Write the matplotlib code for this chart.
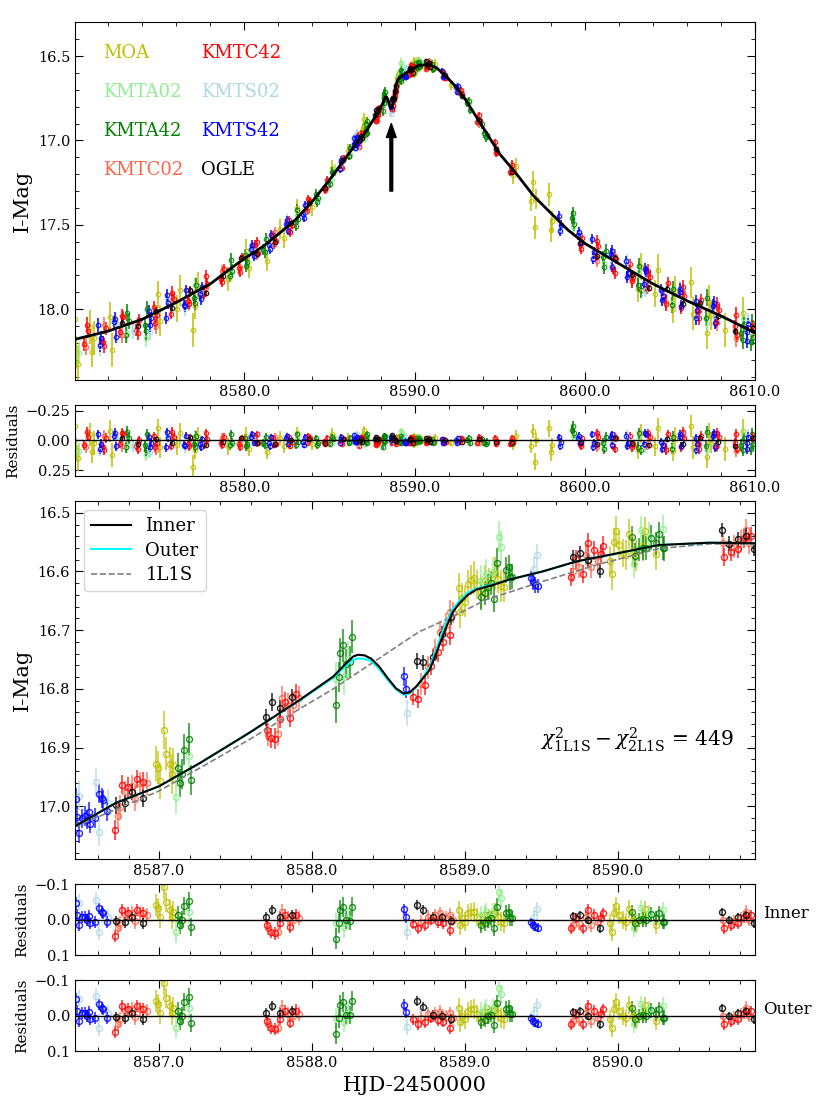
import numpy as np
import matplotlib
matplotlib.use('Agg')
import matplotlib.pyplot as plt
from matplotlib.ticker import MultipleLocator, FuncFormatter
from matplotlib.lines import Line2D

plt.rcParams['font.family'] = ['DejaVu Serif']
plt.rcParams['mathtext.fontset'] = 'dejavuserif'

# ---- model curves ----
# 2L1S inner model, whole season
model_t = [8570.0, 8572.0, 8574.0, 8576.0, 8578.0, 8579.1, 8580.0, 8581.1, 8582.0, 8583.0,
           8584.0, 8585.0, 8586.0,
           8586.45, 8586.72, 8587.0, 8587.27, 8587.59, 8587.92, 8588.14, 8588.226, 8588.27,
           8588.30, 8588.345, 8588.39, 8588.44, 8588.497, 8588.55, 8588.60, 8588.64, 8588.683,
           8588.727, 8588.77, 8588.814, 8588.855, 8588.89, 8588.92, 8588.966, 8589.02,
           8589.075, 8589.184, 8589.29, 8589.51, 8589.73, 8590.0, 8590.27, 8590.6, 8590.9,
           8591.3, 8591.85, 8592.5, 8593.0, 8593.5, 8594.0, 8595.0, 8596.0, 8597.0, 8598.0,
           8599.0, 8600.0, 8602.0, 8604.0, 8606.0, 8608.0, 8610.0]
model_mag = [18.18, 18.13, 18.06, 17.96, 17.85, 17.766, 17.70, 17.628, 17.555, 17.47,
             17.36, 17.234, 17.096,
             17.034, 16.994, 16.966, 16.926, 16.875, 16.819, 16.779, 16.756, 16.745,
             16.742, 16.743, 16.749, 16.762, 16.782, 16.799, 16.808, 16.806, 16.796,
             16.782, 16.768, 16.739, 16.711, 16.688, 16.670, 16.654, 16.640,
             16.631, 16.623, 16.614, 16.600, 16.583, 16.569, 16.555, 16.551, 16.552,
             16.570, 16.620, 16.690, 16.760, 16.840, 16.920, 17.080, 17.200, 17.330, 17.430,
             17.530, 17.610, 17.730, 17.850, 17.950, 18.040, 18.140]

# 2L1S outer model, zoom window
outer_t = [8586.45, 8586.72, 8587.0, 8587.27, 8587.59, 8587.92, 8588.14, 8588.226, 8588.27,
           8588.30, 8588.345, 8588.39, 8588.44, 8588.497, 8588.55, 8588.60, 8588.64, 8588.683,
           8588.727, 8588.77, 8588.814, 8588.855, 8588.89, 8588.92, 8588.966, 8589.02,
           8589.075, 8589.184, 8589.29, 8589.51, 8589.73, 8590.0, 8590.27, 8590.6, 8590.9]
outer_mag = [17.034, 16.994, 16.966, 16.926, 16.875, 16.820, 16.781, 16.760, 16.751,
             16.748, 16.749, 16.753, 16.766, 16.785, 16.801, 16.810, 16.808, 16.797,
             16.780, 16.763, 16.732, 16.703, 16.681, 16.664, 16.650, 16.636,
             16.629, 16.622, 16.614, 16.600, 16.583, 16.569, 16.555, 16.551, 16.552]

# 1L1S model, zoom window
pspl_t = [8586.45, 8587.0, 8587.3, 8587.6, 8587.92, 8588.14, 8588.4, 8588.7, 8588.92,
          8589.14, 8589.51, 8589.86, 8590.27, 8590.6, 8590.9]
pspl_mag = [17.035, 16.974, 16.930, 16.885, 16.834, 16.800, 16.755, 16.703, 16.677,
            16.648, 16.617, 16.589, 16.561, 16.553, 16.553]

# ---- data: time, residual from inner model, error ----
moa_t = [8570.05, 8570.12, 8570.20, 8570.95, 8571.05, 8571.15, 8572.10, 8572.25,
         8574.95, 8575.05, 8576.05, 8576.20, 8577.00, 8577.10, 8577.25, 8579.05,
         8580.10, 8580.25, 8581.30, 8582.10, 8582.30, 8583.10, 8583.95, 8585.15,
         8586.10,
         8586.977, 8586.995, 8587.006, 8587.032, 8587.043, 8587.071, 8587.082, 8587.093,
         8588.962, 8588.966, 8588.984, 8588.999, 8589.021, 8589.043, 8589.064, 8589.082,
         8589.108, 8589.130, 8589.162, 8589.195, 8589.217, 8589.239, 8589.256,
         8589.953, 8589.964, 8589.979, 8589.990, 8590.008, 8590.034, 8590.056, 8590.077,
         8590.099, 8590.121, 8590.165, 8590.182, 8590.252,
         8591.05, 8591.20, 8592.15, 8595.80, 8595.95, 8596.85, 8596.95, 8597.05,
         8597.15, 8597.90, 8598.00, 8598.10, 8603.15, 8603.30, 8604.15, 8604.30,
         8605.20, 8605.30, 8606.25, 8606.35, 8607.20, 8607.30, 8607.40, 8608.25,
         8609.30]
moa_res = [-0.12, 0.08, 0.15, -0.05, 0.10, 0.02, -0.08, 0.12,
           -0.10, 0.06, 0.04, -0.06, 0.22, 0.08, -0.03, 0.05,
           -0.04, 0.07, 0.10, -0.02, 0.05, -0.06, 0.03, -0.05,
           -0.02,
           -0.041, -0.032, -0.008, -0.091, -0.049, -0.027, -0.008, -0.022,
           -0.027, 0.015, -0.004, 0.006, -0.018, -0.022, -0.022, -0.008,
           0.006, -0.013, -0.004, -0.018, -0.008, 0.006, 0.010,
           0.010, 0.034, -0.020, -0.038, -0.013, 0.001, 0.006, -0.029,
           0.001, 0.010, -0.004, -0.029, 0.015,
           0.01, -0.02, 0.02, 0.03, -0.04, 0.05, -0.08, 0.18,
           0.00, -0.10, 0.10, 0.04, 0.08, -0.06, 0.05, -0.10,
           0.09, -0.02, -0.12, 0.06, 0.14, -0.05, 0.02, 0.07,
           -0.08]
moa_err = [0.12, 0.10, 0.11, 0.10, 0.09, 0.10, 0.09, 0.10,
           0.08, 0.09, 0.08, 0.09, 0.10, 0.08, 0.08, 0.07,
           0.07, 0.06, 0.06, 0.06, 0.06, 0.05, 0.05, 0.05,
           0.04,
           0.030, 0.028, 0.030, 0.032, 0.028, 0.030, 0.034, 0.030,
           0.026, 0.028, 0.025, 0.027, 0.025, 0.026, 0.028, 0.025,
           0.027, 0.025, 0.026, 0.028, 0.025, 0.027, 0.026,
           0.025, 0.027, 0.024, 0.026, 0.025, 0.024, 0.026, 0.025,
           0.024, 0.026, 0.025, 0.024, 0.026,
           0.03, 0.03, 0.03, 0.05, 0.05, 0.06, 0.06, 0.07,
           0.06, 0.07, 0.07, 0.06, 0.08, 0.08, 0.08, 0.09,
           0.08, 0.09, 0.09, 0.10, 0.09, 0.10, 0.09, 0.10,
           0.10]

kmta02_t = [8570.30, 8573.12, 8574.20, 8577.10, 8579.22, 8580.12, 8581.20, 8583.08, 8584.26,
            8585.12, 8585.30, 8586.18,
            8587.108, 8587.197, 8588.160, 8588.210, 8588.237,
            8589.108, 8589.141, 8589.184, 8589.223, 8589.239,
            8590.110, 8590.154, 8590.208, 8590.300,
            8591.08, 8593.18, 8594.18, 8599.28, 8601.15, 8603.20, 8605.10, 8607.15, 8609.28,
            8609.82]
kmta02_res = [0.09, 0.05, 0.12, -0.04, 0.03, -0.02, 0.04, -0.02, 0.02,
              0.01, -0.02, 0.01,
              0.034, -0.022, 0.010, 0.020, -0.004,
              -0.013, -0.022, -0.022, -0.079, -0.060,
              0.024, -0.032, -0.018, -0.027,
              0.00, -0.01, 0.02, -0.04, 0.05, -0.03, 0.06, 0.08, -0.05,
              0.03]
kmta02_err = [0.065, 0.058, 0.055, 0.050, 0.046, 0.044, 0.042, 0.038, 0.035,
              0.032, 0.032, 0.030,
              0.030, 0.030, 0.030, 0.030, 0.030,
              0.026, 0.026, 0.026, 0.027, 0.027,
              0.024, 0.024, 0.024, 0.024,
              0.024, 0.030, 0.032, 0.045, 0.048, 0.050, 0.054, 0.056, 0.060,
              0.060]

kmta42_t = [8573.05, 8573.20, 8574.15, 8574.25, 8577.02, 8577.15, 8579.15, 8579.30, 8580.05,
            8580.18, 8581.12, 8581.28, 8583.02, 8583.15, 8584.20, 8584.32, 8585.05, 8585.22,
            8586.12, 8586.22,
            8587.125, 8587.136, 8587.147, 8587.165, 8587.195, 8587.206,
            8588.156, 8588.175, 8588.186, 8588.204, 8588.226, 8588.247, 8588.260,
            8589.108, 8589.130, 8589.151, 8589.173, 8589.191, 8589.210, 8589.271, 8589.287,
            8589.297, 8589.311,
            8590.095, 8590.117, 8590.138, 8590.165, 8590.186, 8590.219, 8590.252, 8590.273,
            8590.295, 8590.306,
            8591.00, 8591.12, 8593.10, 8593.25, 8593.95, 8594.10, 8594.25, 8599.22, 8599.35,
            8601.05, 8601.25, 8603.10, 8603.30, 8605.20, 8607.10, 8609.20, 8609.35, 8609.75,
            8609.90,
            # second field exposures
            8573.12, 8574.20, 8577.08, 8579.22, 8580.12, 8581.20, 8583.08, 8584.26, 8585.14,
            8586.17, 8591.06, 8593.18, 8594.18, 8599.28, 8601.15, 8603.20, 8605.12, 8607.16,
            8609.28, 8609.82]
kmta42_res = [0.06, -0.02, 0.04, -0.05, 0.03, -0.04, 0.04, 0.02, -0.02,
              0.03, 0.02, -0.03, 0.04, 0.01, -0.02, 0.02, 0.03, -0.01,
              0.01, -0.02,
              -0.013, 0.015, 0.001, -0.038, -0.052, 0.020,
              0.053, 0.010, -0.027, -0.036, 0.001, 0.003, -0.036,
              0.015, 0.010, 0.001, -0.004, 0.024, -0.036, -0.018, -0.022,
              -0.004, -0.004,
              -0.022, 0.010, 0.001, -0.001, 0.001, -0.015, -0.004, -0.018,
              0.006, 0.006,
              -0.01, 0.01, 0.00, 0.02, -0.01, 0.02, 0.01, -0.09, -0.06,
              0.02, -0.03, 0.06, 0.08, -0.03, 0.05, 0.04, -0.02, 0.07,
              0.03,
              -0.07, 0.08, 0.06, -0.05, 0.05, 0.04, -0.05, 0.04, -0.03,
              0.02, 0.02, -0.02, 0.03, -0.12, 0.07, -0.06, 0.07, -0.07,
              0.08, -0.05]
kmta42_err = [0.050, 0.048, 0.047, 0.046, 0.042, 0.042, 0.038, 0.038, 0.036,
              0.036, 0.034, 0.034, 0.030, 0.030, 0.028, 0.028, 0.026, 0.026,
              0.024, 0.024,
              0.025, 0.024, 0.025, 0.026, 0.027, 0.025,
              0.030, 0.026, 0.027, 0.028, 0.025, 0.026, 0.028,
              0.022, 0.021, 0.022, 0.021, 0.023, 0.024, 0.022, 0.021,
              0.022, 0.021,
              0.020, 0.021, 0.020, 0.021, 0.020, 0.021, 0.020, 0.021,
              0.020, 0.021,
              0.021, 0.021, 0.026, 0.026, 0.028, 0.028, 0.028, 0.038, 0.038,
              0.040, 0.040, 0.043, 0.043, 0.046, 0.048, 0.050, 0.050, 0.050,
              0.050,
              0.052, 0.050, 0.045, 0.040, 0.038, 0.036, 0.032, 0.030, 0.027,
              0.025, 0.022, 0.027, 0.029, 0.040, 0.042, 0.045, 0.048, 0.050,
              0.052, 0.052]

kmtc02_t = [8570.72, 8571.78, 8572.80, 8573.72, 8574.78, 8575.76, 8576.74, 8577.72, 8578.70,
            8579.76, 8580.72, 8581.78, 8582.70, 8583.76, 8584.78, 8585.76,
            8586.733, 8586.745, 8586.777, 8586.820, 8586.840, 8586.875, 8586.918,
            8587.714, 8587.775, 8587.807, 8587.844, 8587.877, 8587.914,
            8588.716, 8588.759, 8588.803, 8588.840, 8588.879, 8588.901, 8588.923,
            8589.707, 8589.751, 8589.794, 8589.827, 8589.870,
            8590.687, 8590.764, 8590.807, 8590.844, 8590.860,
            8591.74, 8592.72, 8593.76, 8594.78, 8595.70, 8599.78, 8600.72, 8601.76, 8602.76,
            8603.72, 8604.76, 8605.74, 8606.72, 8607.78, 8608.86, 8609.90]
kmtc02_res = [0.06, -0.04, 0.05, 0.02, 0.08, -0.03, 0.04, 0.01, -0.02,
              0.03, 0.02, -0.03, 0.04, 0.01, 0.02, -0.02,
              0.024, 0.010, -0.013, -0.018, 0.005, -0.018, -0.013,
              0.024, 0.034, -0.022, -0.004, 0.001, -0.004,
              0.006, -0.008, -0.013, -0.018, -0.004, -0.013, 0.001,
              0.015, 0.010, -0.008, 0.015, 0.006,
              0.001, 0.006, -0.004, -0.022, 0.000,
              0.01, -0.01, 0.02, 0.00, -0.01, 0.03, 0.06, -0.03, 0.05,
              0.02, 0.07, -0.04, 0.03, 0.05, 0.09, -0.02]
kmtc02_err = [0.050, 0.050, 0.048, 0.046, 0.045, 0.044, 0.042, 0.040, 0.038,
              0.036, 0.034, 0.032, 0.030, 0.028, 0.026, 0.024,
              0.020, 0.021, 0.019, 0.020, 0.021, 0.019, 0.020,
              0.020, 0.019, 0.021, 0.020, 0.019, 0.020,
              0.019, 0.020, 0.018, 0.019, 0.020, 0.019, 0.018,
              0.018, 0.019, 0.018, 0.019, 0.018,
              0.018, 0.019, 0.018, 0.019, 0.018,
              0.020, 0.022, 0.025, 0.028, 0.030, 0.036, 0.038, 0.040, 0.042,
              0.043, 0.045, 0.046, 0.047, 0.048, 0.050, 0.050]

kmtc42_t = [8570.60, 8570.80, 8571.70, 8571.85, 8572.72, 8572.88, 8573.62, 8573.80,
            8574.70, 8574.86, 8575.68, 8575.84, 8576.66, 8576.82, 8577.64, 8577.80,
            8578.62, 8578.78, 8579.66, 8579.84, 8580.64, 8580.80, 8581.68, 8581.86,
            8582.62, 8582.78, 8583.66, 8583.84, 8584.70, 8584.86, 8585.68, 8585.86,
            8586.711, 8586.755, 8586.799, 8586.853, 8586.897,
            8587.703, 8587.735, 8587.757, 8587.790, 8587.822, 8587.856, 8587.899,
            8588.660, 8588.694, 8588.738, 8588.781, 8588.825, 8588.857, 8588.905,
            8589.696, 8589.729, 8589.772, 8589.809, 8589.849, 8589.892, 8589.903,
            8590.698, 8590.742, 8590.786, 8590.829, 8590.873,
            8591.66, 8591.82, 8592.64, 8592.80, 8593.68, 8593.84, 8594.70, 8594.86,
            8595.62, 8595.78, 8599.70, 8599.86, 8600.64, 8600.80, 8601.66, 8601.84,
            8602.68, 8602.84, 8603.64, 8603.80, 8604.68, 8604.86, 8605.66, 8605.82,
            8606.64, 8606.80, 8607.70, 8607.86, 8608.80, 8608.92, 8609.84,
            # second field exposures
            8570.74, 8571.76, 8572.78, 8573.74, 8574.76, 8575.74, 8576.74, 8577.72,
            8578.70, 8579.74, 8580.72, 8581.76, 8582.70, 8583.74, 8584.76, 8585.74,
            8591.74, 8592.72, 8593.76, 8594.78, 8595.70, 8599.78, 8600.72, 8601.76,
            8602.76, 8603.72, 8604.76, 8605.74, 8606.72, 8607.78, 8608.86]
kmtc42_res = [0.04, -0.03, 0.06, -0.02, 0.03, -0.05, 0.05, 0.00,
              -0.04, 0.02, 0.05, -0.03, 0.03, -0.02, 0.04, -0.01,
              0.02, -0.03, 0.03, -0.02, -0.04, 0.02, -0.02, 0.03,
              -0.03, 0.01, 0.02, -0.02, 0.01, -0.02, 0.02, -0.01,
              0.045, -0.027, -0.018, -0.027, -0.018,
              0.015, 0.034, 0.038, 0.010, -0.013, 0.020, -0.013,
              0.012, 0.024, 0.015, 0.001, 0.006, 0.010, 0.029,
              0.024, -0.004, 0.024, -0.027, -0.013, -0.004, -0.018,
              0.024, 0.015, 0.010, -0.008, -0.013,
              -0.01, 0.01, 0.01, -0.01, 0.02, -0.01, -0.02, 0.01,
              0.03, 0.01, 0.03, -0.02, 0.04, -0.03, 0.05, -0.02,
              -0.04, 0.03, 0.05, -0.03, 0.04, -0.05, 0.06, -0.02,
              0.03, -0.04, 0.05, -0.03, 0.02, 0.07, -0.03,
              -0.07, 0.08, -0.06, 0.07, 0.06, -0.07, 0.05, -0.06,
              0.04, 0.06, -0.05, 0.04, 0.05, -0.04, 0.03, 0.03,
              0.02, -0.02, -0.03, 0.03, -0.02, 0.05, -0.06, 0.07,
              0.06, -0.06, 0.08, -0.07, 0.07, -0.06, -0.05]
kmtc42_err = [0.040, 0.038, 0.038, 0.040, 0.036, 0.038, 0.035, 0.036,
              0.034, 0.035, 0.033, 0.034, 0.032, 0.033, 0.031, 0.030,
              0.029, 0.030, 0.028, 0.027, 0.026, 0.027, 0.025, 0.024,
              0.023, 0.024, 0.022, 0.021, 0.020, 0.021, 0.018, 0.019,
              0.017, 0.016, 0.018, 0.016, 0.017,
              0.016, 0.017, 0.018, 0.016, 0.017, 0.016, 0.018,
              0.015, 0.016, 0.017, 0.015, 0.016, 0.015, 0.017,
              0.015, 0.016, 0.015, 0.017, 0.016, 0.015, 0.016,
              0.015, 0.016, 0.015, 0.016, 0.015,
              0.015, 0.016, 0.018, 0.018, 0.020, 0.020, 0.022, 0.022,
              0.024, 0.024, 0.027, 0.028, 0.028, 0.029, 0.030, 0.030,
              0.031, 0.032, 0.032, 0.033, 0.034, 0.034, 0.035, 0.035,
              0.036, 0.036, 0.037, 0.037, 0.038, 0.038, 0.040,
              0.045, 0.045, 0.044, 0.043, 0.042, 0.040, 0.038, 0.036,
              0.034, 0.032, 0.030, 0.028, 0.026, 0.024, 0.022, 0.020,
              0.018, 0.020, 0.022, 0.025, 0.028, 0.032, 0.034, 0.036,
              0.038, 0.039, 0.040, 0.041, 0.042, 0.043, 0.045]

kmts02_t = [8571.50, 8572.44, 8573.48, 8574.48, 8575.46, 8576.50, 8577.46, 8580.48, 8581.52,
            8582.50, 8583.48, 8585.64,
            8586.476, 8586.587, 8586.609, 8586.668, 8588.622, 8589.456, 8589.472,
            8591.66, 8592.50, 8598.54, 8599.66, 8600.50, 8601.58, 8602.50, 8603.56, 8604.56,
            8605.62, 8606.56, 8607.58, 8609.56]
kmts02_res = [0.08, -0.03, 0.05, 0.10, -0.04, 0.06, 0.02, -0.02, 0.03,
              -0.04, 0.02, 0.01,
              -0.048, -0.055, 0.034, -0.008, 0.034, -0.008, -0.030,
              0.02, -0.01, 0.04, -0.03, 0.05, 0.02, -0.04, 0.06, 0.03,
              -0.05, 0.07, 0.02, -0.04]
kmts02_err = [0.055, 0.052, 0.050, 0.048, 0.046, 0.045, 0.043, 0.038, 0.036,
              0.034, 0.032, 0.028,
              0.025, 0.024, 0.024, 0.023, 0.022, 0.020, 0.020,
              0.020, 0.024, 0.038, 0.040, 0.042, 0.043, 0.045, 0.046, 0.047,
              0.048, 0.050, 0.051, 0.053]

kmts42_t = [8571.42, 8571.56, 8572.36, 8572.48, 8574.42, 8574.54, 8575.38, 8575.52,
            8576.44, 8576.56, 8577.40, 8577.52, 8580.40, 8580.54, 8581.46, 8581.58,
            8582.44, 8582.56, 8583.42, 8583.54, 8585.60, 8585.70,
            8586.457, 8586.465, 8586.476, 8586.494, 8586.515, 8586.531, 8586.540, 8586.548,
            8586.581, 8586.609, 8586.624, 8586.635, 8586.661,
            8588.605, 8588.618, 8589.435, 8589.450, 8589.463, 8589.478,
            8591.60, 8591.72, 8592.44, 8592.56, 8598.48, 8598.60, 8599.62, 8599.70,
            8600.44, 8600.56, 8601.52, 8601.62, 8602.44, 8602.56, 8603.50, 8603.60,
            8604.50, 8604.60, 8605.58, 8605.66, 8606.52, 8606.60, 8607.52, 8607.62,
            8609.50, 8609.60,
            # second field exposures
            8571.49, 8572.42, 8574.48, 8575.45, 8576.50, 8577.46, 8580.47, 8581.52,
            8582.50, 8583.48, 8585.65, 8591.66, 8592.50, 8598.54, 8599.66, 8600.50,
            8601.57, 8602.50, 8603.55, 8604.55, 8605.62, 8606.56, 8607.57, 8609.55]
kmts42_res = [-0.05, 0.03, -0.04, 0.05, -0.03, 0.02, 0.06, -0.02,
              0.04, -0.04, 0.03, -0.01, -0.03, 0.02, 0.02, -0.03,
              -0.02, 0.03, 0.01, -0.03, 0.02, -0.01,
              -0.046, -0.013, 0.015, -0.007, -0.007, 0.001, -0.010, 0.010,
              0.006, -0.032, -0.022, -0.018, 0.006,
              -0.029, -0.007, 0.007, 0.015, 0.020, 0.022,
              -0.01, 0.01, 0.00, -0.02, -0.03, 0.01, -0.02, 0.02,
              -0.05, 0.02, -0.03, 0.04, -0.04, 0.02, 0.03, -0.05,
              0.01, 0.04, -0.03, 0.05, -0.02, 0.03, -0.04, 0.06,
              0.02, -0.03,
              0.07, -0.06, 0.06, -0.07, 0.05, 0.06, -0.05, 0.05,
              -0.04, 0.04, -0.03, 0.02, 0.02, 0.05, -0.04, 0.06,
              -0.05, 0.05, -0.06, 0.07, -0.05, 0.08, -0.06, 0.07]
kmts42_err = [0.040, 0.040, 0.038, 0.038, 0.036, 0.036, 0.034, 0.034,
              0.032, 0.032, 0.030, 0.030, 0.027, 0.027, 0.026, 0.026,
              0.024, 0.024, 0.022, 0.022, 0.019, 0.019,
              0.018, 0.017, 0.018, 0.016, 0.017, 0.016, 0.017, 0.016,
              0.017, 0.016, 0.017, 0.016, 0.016,
              0.016, 0.015, 0.012, 0.012, 0.013, 0.012,
              0.015, 0.015, 0.018, 0.018, 0.027, 0.027, 0.029, 0.029,
              0.030, 0.030, 0.031, 0.031, 0.032, 0.032, 0.033, 0.033,
              0.034, 0.034, 0.035, 0.035, 0.036, 0.036, 0.037, 0.037,
              0.039, 0.039,
              0.042, 0.040, 0.038, 0.037, 0.035, 0.033, 0.029, 0.028,
              0.026, 0.024, 0.020, 0.016, 0.019, 0.030, 0.031, 0.032,
              0.033, 0.034, 0.035, 0.036, 0.037, 0.038, 0.039, 0.041]

ogle_t = [8572.78, 8573.76, 8574.80, 8575.74, 8576.78, 8577.76, 8578.74, 8579.80, 8580.76,
          8581.80, 8582.74, 8583.80, 8584.76, 8585.80,
          8586.716, 8586.777, 8586.825, 8586.892, 8587.698, 8587.742, 8587.790, 8587.873,
          8588.690, 8588.727, 8588.792, 8588.851, 8588.912,
          8589.707, 8589.755, 8589.805, 8589.886,
          8590.683, 8590.727, 8590.786, 8590.840, 8590.894,
          8591.76, 8592.78, 8593.80, 8594.76, 8595.74, 8599.80, 8600.74, 8601.80, 8602.78,
          8603.76, 8604.80, 8605.78, 8606.78, 8607.80, 8608.84, 8609.88]
ogle_res = [-0.02, 0.03, -0.01, 0.02, -0.03, 0.04, 0.01, -0.02, 0.02,
            0.03, 0.00, -0.01, 0.02, -0.01,
            0.004, 0.007, -0.008, 0.010, -0.008, -0.027, -0.008, -0.013,
            -0.041, -0.027, -0.008, -0.007, 0.003,
            -0.010, -0.013, 0.001, 0.024,
            -0.022, 0.001, -0.007, -0.013, 0.010,
            0.00, 0.01, -0.01, 0.01, 0.02, 0.01, 0.03, -0.02, 0.02,
            0.04, -0.01, 0.03, -0.02, 0.01, 0.05, -0.02]
ogle_err = [0.022, 0.021, 0.020, 0.019, 0.019, 0.018, 0.017, 0.016, 0.016,
            0.015, 0.014, 0.013, 0.012, 0.012,
            0.015, 0.015, 0.014, 0.015, 0.014, 0.015, 0.014, 0.014,
            0.014, 0.013, 0.013, 0.013, 0.013,
            0.012, 0.012, 0.012, 0.013,
            0.012, 0.012, 0.012, 0.012, 0.012,
            0.010, 0.011, 0.012, 0.013, 0.014, 0.016, 0.017, 0.018, 0.018,
            0.019, 0.020, 0.020, 0.021, 0.021, 0.022, 0.022]

names = ['MOA', 'KMTA02', 'KMTA42', 'KMTC02', 'KMTC42', 'KMTS02', 'KMTS42', 'OGLE']
colors = ['y', 'lightgreen', 'g', 'tomato', 'r', 'lightblue', 'b', 'k']
times = [moa_t, kmta02_t, kmta42_t, kmtc02_t, kmtc42_t, kmts02_t, kmts42_t, ogle_t]
resids = [moa_res, kmta02_res, kmta42_res, kmtc02_res, kmtc42_res, kmts02_res, kmts42_res, ogle_res]
errs = [moa_err, kmta02_err, kmta42_err, kmtc02_err, kmtc42_err, kmts02_err, kmts42_err, ogle_err]

fig = plt.figure(figsize=(8.3, 11.07), dpi=100)
L, W = 0.0904, 0.8193
ax1 = fig.add_axes([L, 0.6567, W, 0.3231])
ax2 = fig.add_axes([L, 0.5700, W, 0.0644])
ax3 = fig.add_axes([L, 0.2240, W, 0.3234])
ax4 = fig.add_axes([L, 0.1370, W, 0.0644])
ax5 = fig.add_axes([L, 0.0503, W, 0.0644])

fmt1 = FuncFormatter(lambda v, p: '%.1f' % v)
for ax in [ax1, ax2, ax3, ax4, ax5]:
    ax.tick_params(which='both', direction='in', top=True, right=True, labelsize=10.5)
    ax.tick_params(which='major', length=6)
    ax.tick_params(which='minor', length=3)

for c, t, r, e in zip(colors, times, resids, errs):
    t = np.array(t)
    r = np.array(r)
    e = np.array(e)
    mag = np.interp(t, model_t, model_mag) + r
    res_out = mag - np.interp(t, outer_t, outer_mag)
    kw_s = dict(fmt='o', ms=3.2, mfc='none', mec=c, ecolor=c, mew=0.9, elinewidth=1.3,
                capsize=0, alpha=0.85, zorder=2)
    kw_b = dict(fmt='o', ms=4.3, mfc='none', mec=c, ecolor=c, mew=1.0, elinewidth=1.1,
                capsize=0, alpha=0.85, zorder=2)
    ax1.errorbar(t, mag, yerr=e, **kw_s)
    ax2.errorbar(t, r, yerr=e, **kw_s)
    ax3.errorbar(t, mag, yerr=e, **kw_b)
    ax4.errorbar(t, r, yerr=e, **kw_b)
    ax5.errorbar(t, res_out, yerr=e, **kw_b)

# top panel
ax1.plot(model_t, model_mag, 'k-', lw=2, zorder=5)
ax1.set_xlim(8570.05, 8610)
ax1.set_ylim(18.42, 16.30)
ax1.set_xticks([8580, 8590, 8600, 8610])
ax1.xaxis.set_minor_locator(MultipleLocator(2))
ax1.xaxis.set_major_formatter(fmt1)
ax1.yaxis.set_major_locator(MultipleLocator(0.5))
ax1.yaxis.set_minor_locator(MultipleLocator(0.1))
ax1.set_ylabel('I-Mag', fontsize=15)
ax1.annotate('', xy=(8588.63, 16.90), xytext=(8588.63, 17.30),
             arrowprops=dict(facecolor='k', edgecolor='k', width=2, headwidth=7,
                             headlength=10, shrink=0), zorder=6)
hs = [Line2D([], [], ls='none') for _ in names]
ax1.legend(hs, names, loc='upper left', bbox_to_anchor=(0.031, 0.961), ncol=2,
           frameon=False, handlelength=0, handletextpad=0, labelcolor=colors,
           fontsize=13, labelspacing=1.17, columnspacing=0.95, borderaxespad=0)

# top residuals
ax2.axhline(0, color='k', lw=1, zorder=3)
ax2.set_xlim(8570.05, 8610)
ax2.set_ylim(0.30, -0.30)
ax2.set_xticks([8580, 8590, 8600, 8610])
ax2.xaxis.set_minor_locator(MultipleLocator(2))
ax2.xaxis.set_major_formatter(fmt1)
ax2.set_yticks([-0.25, 0.0, 0.25])
ax2.set_ylabel('Residuals', fontsize=11)

# zoom panel
l_pspl, = ax3.plot(pspl_t, pspl_mag, '--', color='gray', lw=1.2, zorder=4)
l_out, = ax3.plot(outer_t, outer_mag, color='cyan', lw=1.5, zorder=5)
l_in, = ax3.plot(model_t, model_mag, color='k', lw=1.5, zorder=6)
ax3.legend([l_in, l_out, l_pspl], ['Inner', 'Outer', '1L1S'], loc='upper left',
           fontsize=13, handlelength=2.2, handletextpad=0.8, labelspacing=0.35)
ax3.set_xlim(8586.45, 8590.9)
ax3.set_ylim(17.09, 16.48)
ax3.xaxis.set_major_locator(MultipleLocator(1))
ax3.xaxis.set_minor_locator(MultipleLocator(0.2))
ax3.xaxis.set_major_formatter(fmt1)
ax3.yaxis.set_major_locator(MultipleLocator(0.1))
ax3.yaxis.set_minor_locator(MultipleLocator(0.02))
ax3.set_ylabel('I-Mag', fontsize=15)
ax3.text(8589.49, 16.887, r'$\chi^2_{\rm 1L1S}-\chi^2_{\rm 2L1S}$ = 449', fontsize=14.5,
         va='center', ha='left')

# zoom residuals
for ax, lab in [(ax4, 'Inner'), (ax5, 'Outer')]:
    ax.axhline(0, color='k', lw=1, zorder=3)
    ax.set_xlim(8586.45, 8590.9)
    ax.set_ylim(0.1, -0.1)
    ax.xaxis.set_major_locator(MultipleLocator(1))
    ax.xaxis.set_minor_locator(MultipleLocator(0.2))
    ax.xaxis.set_major_formatter(fmt1)
    ax.set_yticks([-0.1, 0.0, 0.1])
    ax.set_ylabel('Residuals', fontsize=11)
    ax.text(1.012, 0.59, lab, transform=ax.transAxes, fontsize=12, va='center', ha='left')
ax4.tick_params(labelbottom=False)
ax5.set_xlabel('HJD-2450000', fontsize=15)

fig.savefig('out.png', dpi=100)
